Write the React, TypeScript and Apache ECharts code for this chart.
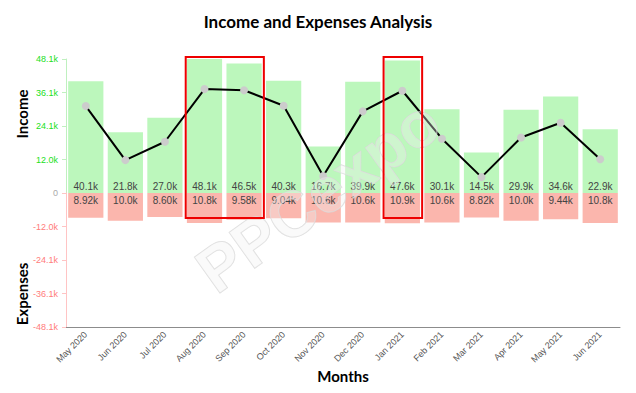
import React, { useEffect, useRef } from "react";
import * as echarts from "echarts";

const months = [
  "May 2020", "Jun 2020", "Jul 2020", "Aug 2020", "Sep 2020", "Oct 2020", "Nov 2020",
  "Dec 2020", "Jan 2021", "Feb 2021", "Mar 2021", "Apr 2021", "May 2021", "Jun 2021",
];
// values in thousands
const income = [40.1, 21.8, 27.0, 48.1, 46.5, 40.3, 16.7, 39.9, 47.6, 30.1, 14.5, 29.9, 34.6, 22.9];
const expenses = [8.92, 10.0, 8.6, 10.8, 9.58, 9.04, 10.6, 10.6, 10.9, 10.6, 8.82, 10.0, 9.44, 10.8];
const net = [31.2, 11.8, 18.4, 37.3, 36.9, 31.3, 6.1, 29.3, 36.7, 19.5, 5.7, 19.9, 25.2, 12.1];

const axisMax = 48.1;
const axisInterval = 12.025;

const highlightBoxes = [
  { from: "Aug 2020", to: "Sep 2020" },
  { from: "Jan 2021", to: "Jan 2021" },
];
const boxTopValue = 48.8; // income scale
const boxBottomValue = 9.0; // expense scale

const FONT = "Liberation Sans";

const fmtTick = (v: number) => {
  if (Math.abs(v) < 1e-9) return "0";
  return (Math.round(v * 10) / 10).toFixed(1) + "k";
};
const fmtVal = (v: number) => Number(v).toPrecision(3) + "k";

export default function App() {
  const ref = useRef<HTMLDivElement>(null);
  useEffect(() => {
    document.body.style.margin = "0";
    if (!ref.current) return;
    const chart = echarts.init(ref.current, undefined, { renderer: "svg" });
    const gridLeft = 66;
    const gridRight = 16;
    const option: any = {
      animation: false,
      backgroundColor: "#ffffff",
      title: {
        text: "Income and Expenses Analysis",
        left: "center",
        top: 8,
        textStyle: { fontFamily: "Lato", fontWeight: "bold", fontSize: 17, color: "#000" },
      },
      grid: [
        { left: gridLeft, right: gridRight, top: 59, height: 134 },
        { left: gridLeft, right: gridRight, top: 193, height: 134 },
      ],
      xAxis: [
        {
          type: "category",
          gridIndex: 0,
          data: months,
          show: false,
        },
        {
          type: "category",
          gridIndex: 1,
          data: months,
          position: "bottom",
          axisLine: { onZero: false, lineStyle: { color: "#8c8c8c", width: 1 } },
          axisTick: { alignWithLabel: true, length: 4, lineStyle: { color: "#8c8c8c" } },
          axisLabel: {
            rotate: 45,
            fontSize: 9,
            color: "#555",
            fontFamily: FONT,
            margin: 6,
            interval: 0,
          },
          name: "Months",
          nameLocation: "middle",
          nameGap: 41,
          nameTextStyle: { fontFamily: "Lato", fontWeight: "bold", fontSize: 15, color: "#000" },
        },
      ],
      yAxis: [
        {
          type: "value",
          gridIndex: 0,
          min: 0,
          max: axisMax,
          interval: axisInterval,
          splitLine: { show: false },
          axisLine: { show: true, lineStyle: { color: "#bff0bf" } },
          axisTick: { show: true, length: 4, lineStyle: { color: "#bff0bf" } },
          axisLabel: {
            fontSize: 9,
            fontFamily: FONT,
            formatter: (v: number) => (v === 0 ? "{z|0}" : "{g|" + fmtTick(v) + "}"),
            rich: {
              z: { color: "#aaaaaa", fontSize: 9, fontFamily: FONT },
              g: { color: "#22e022", fontSize: 9, fontFamily: FONT },
            },
          },
        },
        {
          type: "value",
          gridIndex: 1,
          min: 0,
          max: axisMax,
          interval: axisInterval,
          inverse: true,
          splitLine: { show: false },
          axisLine: { show: true, lineStyle: { color: "#ffc4c4" } },
          axisTick: { show: true, length: 4, lineStyle: { color: "#ffc4c4" } },
          axisLabel: {
            fontSize: 9,
            fontFamily: FONT,
            color: "#ff7b7b",
            formatter: (v: number) => (Math.abs(v) < 1e-9 ? "" : "-" + fmtTick(v)),
          },
        },
      ],
      series: [
        {
          name: "Income",
          type: "bar",
          xAxisIndex: 0,
          yAxisIndex: 0,
          data: income,
          barCategoryGap: "11%",
          itemStyle: { color: "#bcf7bc" },
          label: {
            show: true,
            position: "insideBottom",
            distance: 2,
            fontSize: 10,
            color: "#444",
            fontFamily: FONT,
            formatter: (p: any) => fmtVal(p.value),
          },
          z: 2,
        },
        {
          name: "Expenses",
          type: "bar",
          xAxisIndex: 1,
          yAxisIndex: 1,
          data: expenses,
          barCategoryGap: "11%",
          itemStyle: { color: "#fbb6ad" },
          label: {
            show: true,
            position: "insideTop",
            distance: 2,
            fontSize: 10,
            color: "#444",
            fontFamily: FONT,
            formatter: (p: any) => fmtVal(p.value),
          },
          z: 2,
        },
        {
          name: "Net",
          type: "line",
          xAxisIndex: 0,
          yAxisIndex: 0,
          data: net,
          symbol: "circle",
          symbolSize: 8,
          lineStyle: { color: "#000", width: 2 },
          itemStyle: { color: "#cccccc" },
          z: 3,
        },
      ],
    };
    chart.setOption(option);

    const rotText = (text: string, cx: number, cy: number) => ({
      type: "text",
      x: cx,
      y: cy,
      rotation: Math.PI / 2,
      style: {
        text,
        fontFamily: "Lato",
        fontWeight: "bold",
        fontSize: 15,
        fill: "#000",
        align: "center",
        verticalAlign: "middle",
      },
    });
    const g2: any[] = [rotText("Income", 22, 114), rotText("Expenses", 22, 294)];

    // watermark
    g2.push({
      type: "text",
      x: 318,
      y: 196,
      rotation: 0.62,
      z: 50,
      style: {
        text: "PPCexpo",
        fontFamily: "Liberation Sans",
        fontWeight: "bold",
        fontSize: 64,
        fill: "rgba(240,240,240,0.35)",
        stroke: "rgba(215,215,215,0.8)",
        lineWidth: 1,
        align: "center",
        verticalAlign: "middle",
      },
    });

    highlightBoxes.forEach((b) => {
      const iFrom = months.indexOf(b.from);
      const iTo = months.indexOf(b.to);
      const c0 = chart.convertToPixel({ xAxisIndex: 0, yAxisIndex: 0 }, [iFrom, boxTopValue]) as number[];
      const c1 = chart.convertToPixel({ xAxisIndex: 0, yAxisIndex: 0 }, [iTo, boxTopValue]) as number[];
      const n = chart.convertToPixel({ xAxisIndex: 0, yAxisIndex: 0 }, [1, 0]) as number[];
      const p = chart.convertToPixel({ xAxisIndex: 0, yAxisIndex: 0 }, [0, 0]) as number[];
      const pitch = n[0] - p[0];
      const bot = chart.convertToPixel({ xAxisIndex: 1, yAxisIndex: 1 }, [iFrom, boxBottomValue]) as number[];
      const x0 = c0[0] - pitch / 2 + 1;
      const x1 = c1[0] + pitch / 2;
      g2.push({
        type: "rect",
        z: 60,
        shape: { x: x0, y: c0[1], width: x1 - x0, height: bot[1] - c0[1] },
        style: { fill: "none", stroke: "#ee0000", lineWidth: 2 },
      });
    });
    chart.setOption({ graphic: g2 });

    return () => chart.dispose();
  }, []);
  return <div ref={ref} style={{ width: 636, height: 393 }} />;
}
